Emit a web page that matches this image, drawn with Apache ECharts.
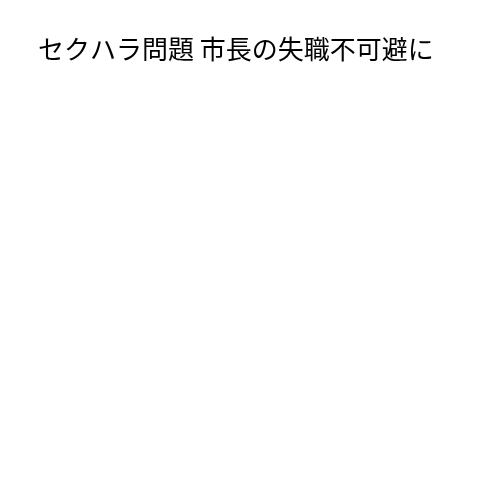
<!DOCTYPE html>
<html><head><meta charset="utf-8">
<script src="https://cdn.jsdelivr.net/npm/echarts@6/dist/echarts.min.js"></script>
<style>html,body{margin:0;padding:0;background:#fff}#c{width:500px;height:500px}</style>
</head><body><div id="c"></div>
<script>
const titleText = "セクハラ問題 市長の失職不可避に";
const chart = echarts.init(document.getElementById('c'));
chart.setOption({
  backgroundColor: '#fff',
  animation: false,
  title: {
    text: titleText,
    left: 33,
    top: 31,
    textStyle: { fontFamily: 'Noto Sans CJK JP', fontWeight: 'normal', fontSize: 26, color: '#000' }
  },
  series: []
});
</script></body></html>
